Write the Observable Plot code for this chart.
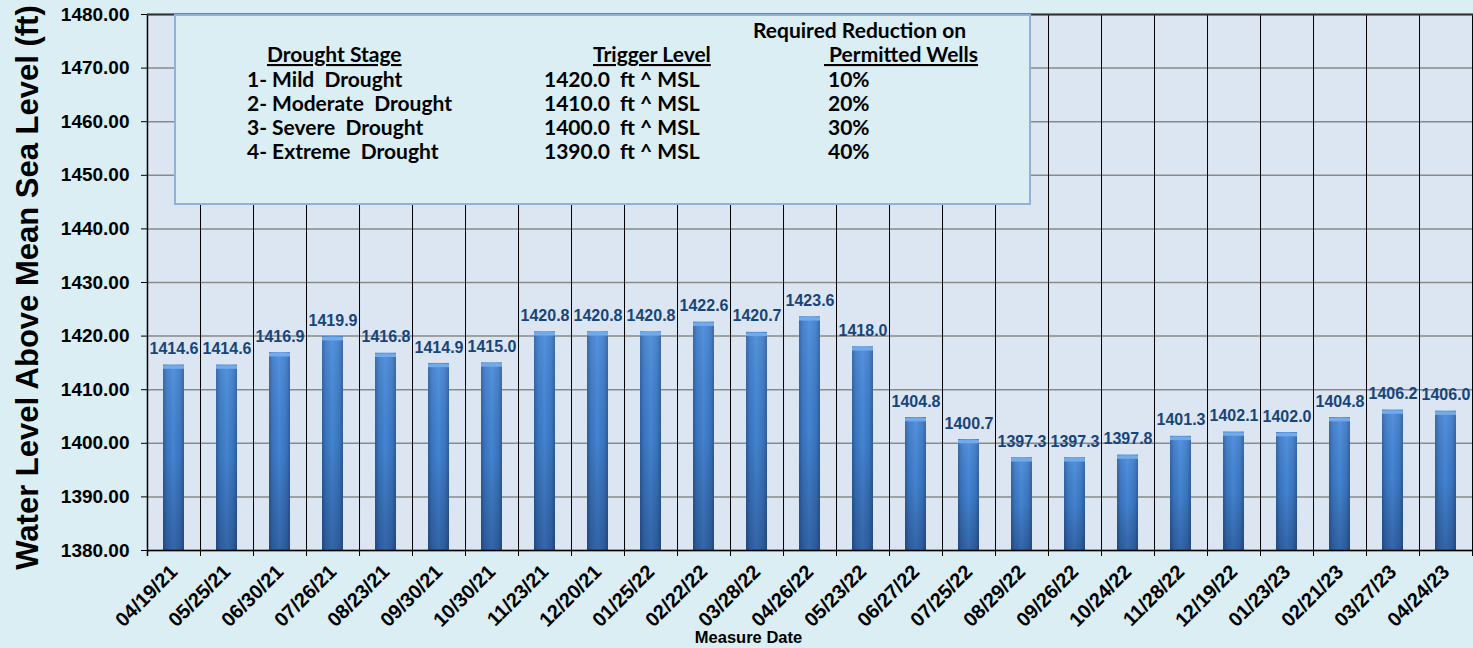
<!DOCTYPE html>
<html><head><meta charset="utf-8">
<script src="https://cdn.jsdelivr.net/npm/d3@7"></script>
<script src="https://cdn.jsdelivr.net/npm/@observablehq/plot@0.6"></script>
<style>
html,body{margin:0;padding:0;background:#daeef3;}
#wrap{position:relative;width:1473px;height:648px;overflow:hidden;}
</style></head><body><div id="wrap"></div>
<script>
const dates = ["04/19/21","05/25/21","06/30/21","07/26/21","08/23/21","09/30/21","10/30/21","11/23/21","12/20/21","01/25/22","02/22/22","03/28/22","04/26/22","05/23/22","06/27/22","07/25/22","08/29/22","09/26/22","10/24/22","11/28/22","12/19/22","01/23/23","02/21/23","03/27/23","04/24/23"];
const levels = [1414.6,1414.6,1416.9,1419.9,1416.8,1414.9,1415.0,1420.8,1420.8,1420.8,1422.6,1420.7,1423.6,1418.0,1404.8,1400.7,1397.3,1397.3,1397.8,1401.3,1402.1,1402.0,1404.8,1406.2,1406.0];
const yTicks = [1380,1390,1400,1410,1420,1430,1440,1450,1460,1470,1480];
const stages = ["1- Mild  Drought","2- Moderate  Drought","3- Severe  Drought","4- Extreme  Drought"];
const triggers = ["1420.0  ft ^ MSL","1410.0  ft ^ MSL","1400.0  ft ^ MSL","1390.0  ft ^ MSL"];
const reductions = ["10%","20%","30%","40%"];
const yTitle = "Water Level Above Mean Sea Level (ft)";
const xTitle = "Measure Date";

const data = dates.map((d, i) => ({date: d, level: levels[i]}));
const W = 1473, H = 648, mL = 147, mR = 0, mT = 14, mB = 98;
const step = (W - mL - mR) / dates.length;
const font = "'Liberation Sans', Arial, sans-serif";

const chart = Plot.plot({
  width: W, height: H, marginLeft: mL, marginRight: mR, marginTop: mT, marginBottom: mB,
  style: {background: "transparent", fontFamily: font, overflow: "visible", color: "#000"},
  x: {domain: dates, paddingInner: 0.6, paddingOuter: 0.3, label: null},
  y: {domain: [1380, 1480], label: null},
  marks: [
    Plot.frame({fill: "#dce6f2", stroke: null}),
    Plot.ruleY(yTicks, {stroke: "#8a8a8a", strokeWidth: 1.5}),
    Plot.ruleX(dates, {dx: step / 2, stroke: "#000", strokeWidth: 1, insetBottom: -6}),
    Plot.ruleX([dates[0]], {dx: -step / 2, stroke: "#000", strokeWidth: 1.5, insetBottom: -6}),
    Plot.barY(data, {x: "date", y1: 1380, y2: "level", fill: "url(#barH)"}),
    Plot.barY(data, {x: "date", y1: 1380, y2: "level", fill: "url(#barV)"}),
    Plot.tickY(data, {x: "date", y: "level", stroke: "#72abeb", strokeWidth: 3.5, dy: 2}),
    Plot.text(data, {x: "date", y: "level", text: d => d.level.toFixed(1), dy: -16, fill: "#17457a", fontWeight: "bold", fontSize: 16}),
    Plot.ruleY([1380], {stroke: "#000", strokeWidth: 1.5}),
    Plot.ruleY([1480], {stroke: "#333", strokeWidth: 2}),
    Plot.axisY({ticks: yTicks, tickFormat: d3.format(".2f"), tickSize: 6, tickPadding: 12, fontSize: 19, fontWeight: "bold", label: null}),
    Plot.axisX({tickSize: 0, tickPadding: 18, tickRotate: -45, fontSize: 20, fontWeight: "bold", label: null}),
    Plot.text([yTitle], {frameAnchor: "left", textAnchor: "middle", rotate: -90, dx: 37 - mL, dy: 5, lineAnchor: "bottom", fontSize: 31, fontWeight: "bold", fill: "#000"}),
    Plot.text([xTitle], {frameAnchor: "bottom", dx: -62, dy: 92, fontSize: 16.5, fontWeight: "bold", fill: "#000"})
  ]
});

const svg = d3.select(chart);
const defs = svg.insert("defs", ":first-child");
const gh = defs.append("linearGradient").attr("id", "barH").attr("x1", 0).attr("x2", 1).attr("y1", 0).attr("y2", 0);
[[0, "#2c5f9f"], [0.18, "#3b79c6"], [0.5, "#4789da"], [0.82, "#3b79c6"], [1, "#2c5f9f"]]
  .forEach(([o, c]) => gh.append("stop").attr("offset", o).attr("stop-color", c));
const gv = defs.append("linearGradient").attr("id", "barV").attr("x1", 0).attr("x2", 0).attr("y1", 0).attr("y2", 1);
[[0, "#ffffff", 0.08], [0.5, "#000000", 0.05], [1, "#000a28", 0.28]]
  .forEach(([o, c, a]) => gv.append("stop").attr("offset", o).attr("stop-color", c).attr("stop-opacity", a));

// Legend box (annotation)
const lg = svg.append("g").attr("font-family", "Lato, 'Open Sans', sans-serif").attr("font-weight", "bold").attr("font-size", 21).attr("fill", "#000").attr("text-anchor", "start");
lg.append("rect").attr("x", 175).attr("y", 15).attr("width", 855).attr("height", 189).attr("fill", "#daeef3").attr("stroke", "#8fb1dc").attr("stroke-width", 2);
const t = (x, y, s, u) => lg.append("text").attr("x", x).attr("y", y).attr("text-anchor", "start").style("white-space", "pre").style("text-decoration", u ? "underline" : null).text(s);
t(753, 38, "Required Reduction on");
t(267, 62, "Drought Stage", true);
t(593, 62, "Trigger Level", true);
t(824, 62, " Permitted Wells", true);
stages.forEach((s, i) => t(247, 87 + 24 * i, s));
triggers.forEach((s, i) => t(544, 87 + 24 * i, s));
reductions.forEach((s, i) => t(828, 87 + 24 * i, s));

document.getElementById("wrap").appendChild(chart);
</script>
</body></html>
